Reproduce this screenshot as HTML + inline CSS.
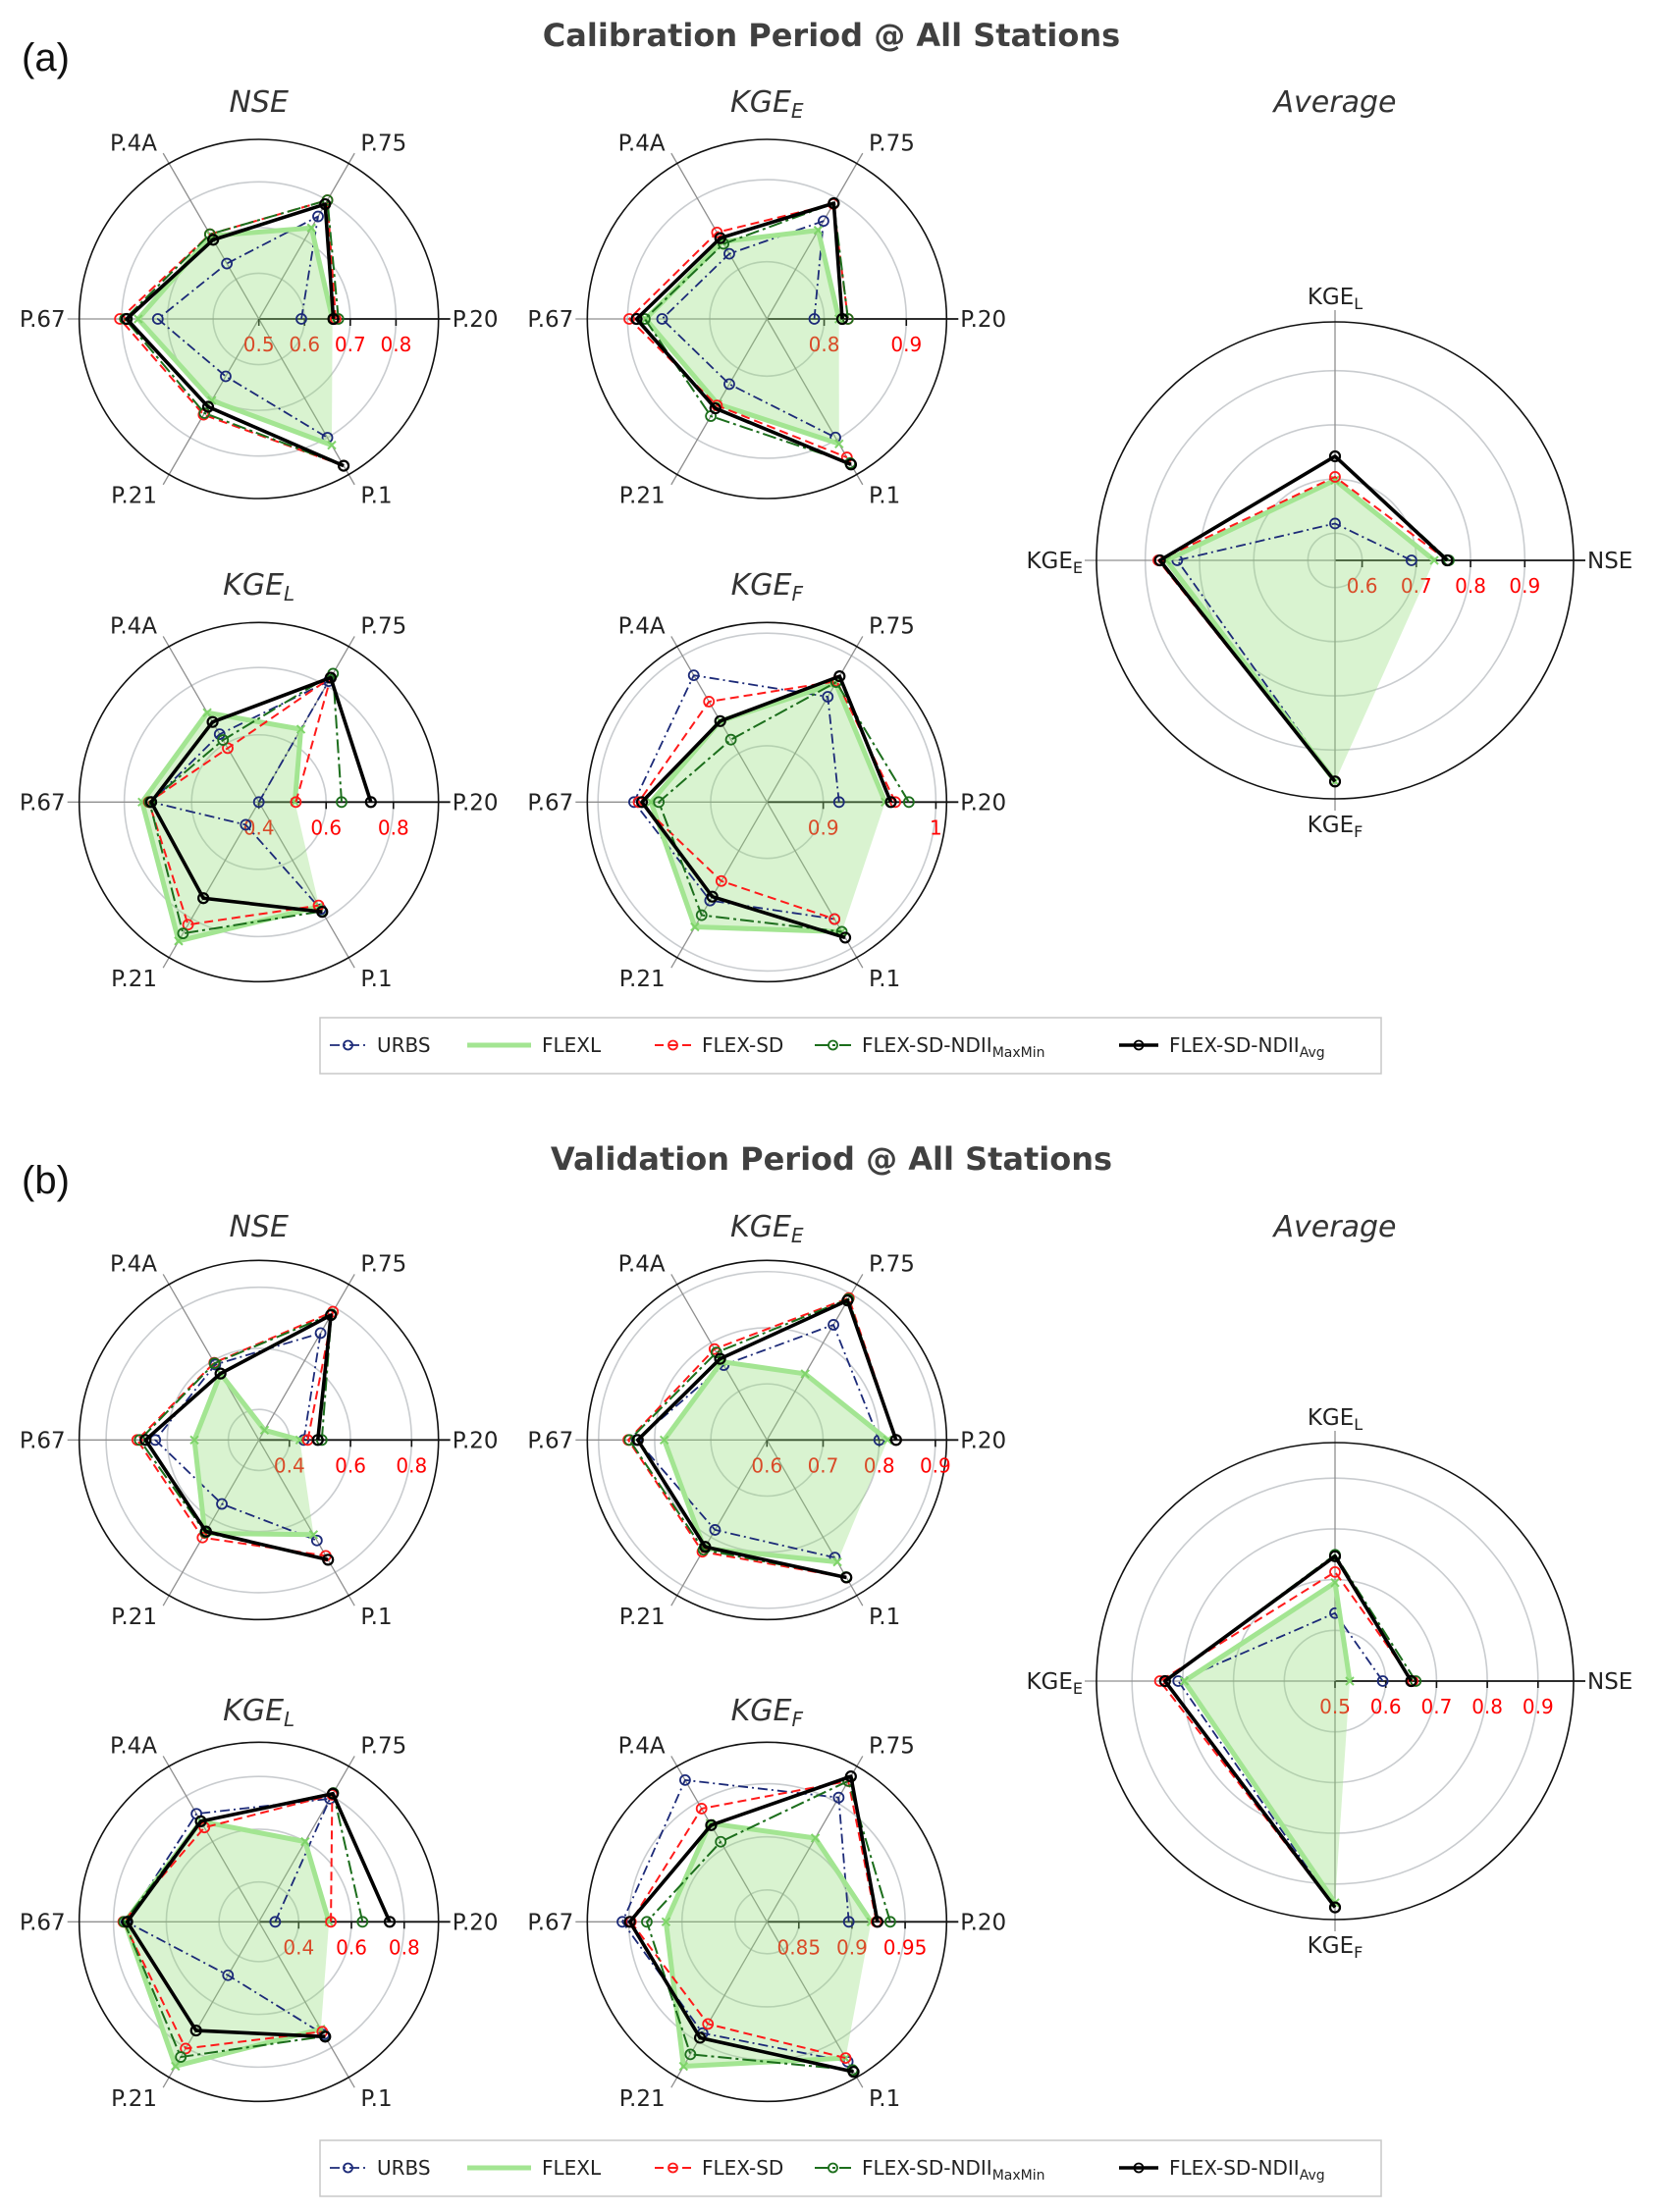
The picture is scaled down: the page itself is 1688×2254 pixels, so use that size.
<!DOCTYPE html>
<html><head><meta charset="utf-8"><title>Radar charts</title>
<style>
html,body{margin:0;padding:0;background:#fff;}
svg{display:block;font-family:"DejaVu Sans","Liberation Sans",sans-serif;}
</style></head>
<body>
<svg id="fig" xmlns="http://www.w3.org/2000/svg" width="1688" height="2254" viewBox="0 0 1688 2254">
  <rect x="0" y="0" width="1688" height="2254" fill="#fff"/>
  <text x="22" y="72" font-size="40" fill="#111" font-family="Liberation Sans, sans-serif">(a)</text>
  <text x="847" y="47" font-size="32" font-weight="bold" fill="#404040" text-anchor="middle">Calibration Period @ All Stations</text>
  <text x="22" y="1216" font-size="40" fill="#111" font-family="Liberation Sans, sans-serif">(b)</text>
  <text x="847" y="1192" font-size="32" font-weight="bold" fill="#404040" text-anchor="middle">Validation Period @ All Stations</text>
  <g id="charts"></g>
  <g id="legends"></g>
</svg>
<script>
// ---------- DATA ----------
const stations = ["P.20","P.75","P.4A","P.67","P.21","P.1"];
const avgAxes = [["NSE",""],["KGE","L"],["KGE","E"],["KGE","F"]];
const seriesNames = ["URBS","FLEXL","FLEX-SD","FLEX-SD-NDII MaxMin","FLEX-SD-NDII Avg"];

// Calibration
const calNseUrbs  = [0.593,0.759,0.640,0.721,0.645,0.800];
const calNseFlexl = [0.661,0.730,0.710,0.764,0.706,0.819];
const calNseSd    = [0.668,0.800,0.714,0.804,0.742,0.871];
const calNseMm    = [0.674,0.800,0.714,0.793,0.738,0.871];
const calNseAvg   = [0.663,0.790,0.700,0.789,0.722,0.871];
const calNseTicks = [0.5,0.6,0.7,0.8];
const calNseTickLabels = ["0.5","0.6","0.7","0.8"];

const calKgeEUrbs  = [0.788,0.868,0.822,0.858,0.822,0.897];
const calKgeEFlexl = [0.818,0.855,0.839,0.878,0.850,0.906];
const calKgeESd    = [0.829,0.892,0.852,0.898,0.852,0.925];
const calKgeEMm    = [0.829,0.893,0.836,0.879,0.867,0.933];
const calKgeEAvg   = [0.822,0.893,0.844,0.889,0.856,0.935];
const calKgeETicks = [0.8,0.9];
const calKgeETickLabels = ["0.8","0.9"];

const calKgeLUrbs  = [0.400,0.815,0.633,0.720,0.478,0.768];
const calKgeLFlexl = [0.507,0.650,0.707,0.747,0.877,0.759];
const calKgeLSd    = [0.510,0.827,0.585,0.727,0.821,0.755];
const calKgeLMm    = [0.646,0.841,0.613,0.725,0.851,0.775];
const calKgeLAvg   = [0.733,0.827,0.675,0.720,0.730,0.777];
const calKgeLTicks = [0.4,0.6,0.8];
const calKgeLTickLabels = ["0.4","0.6","0.8"];

const calKgeFUrbs  = [0.914,0.958,0.980,0.968,0.951,0.970];
const calKgeFFlexl = [0.955,0.972,0.933,0.953,0.978,0.983];
const calKgeFSd    = [0.964,0.974,0.953,0.964,0.931,0.970];
const calKgeFMm    = [0.976,0.973,0.914,0.946,0.966,0.983];
const calKgeFAvg   = [0.960,0.979,0.933,0.961,0.947,0.989];
const calKgeFTicks = [0.9,1.0];
const calKgeFTickLabels = ["0.9","1"];

const calAvgUrbs  = [0.691,0.618,0.841,0.958];
const calAvgFlexl = [0.733,0.698,0.861,0.958];
const calAvgSd    = [0.757,0.704,0.876,0.958];
const calAvgMm    = [0.760,0.742,0.873,0.958];
const calAvgAvg   = [0.757,0.742,0.873,0.958];
const calAvgTicks = [0.6,0.7,0.8,0.9];
const calAvgTickLabels = ["0.6","0.7","0.8","0.9"];

// Validation
const valNseUrbs  = [0.447,0.704,0.585,0.639,0.542,0.680];
const valNseFlexl = [0.434,0.337,0.551,0.511,0.653,0.658];
const valNseSd    = [0.460,0.785,0.592,0.698,0.669,0.738];
const valNseMm    = [0.506,0.775,0.590,0.690,0.650,0.753];
const valNseAvg   = [0.493,0.772,0.551,0.671,0.646,0.753];
const valNseTicks = [0.4,0.6,0.8];
const valNseTickLabels = ["0.4","0.6","0.8"];

const valKgeEUrbs  = [0.800,0.837,0.754,0.832,0.785,0.842];
const valKgeEFlexl = [0.815,0.736,0.761,0.783,0.823,0.851];
const valKgeESd    = [0.830,0.892,0.787,0.847,0.830,0.883];
const valKgeEMm    = [0.830,0.890,0.780,0.845,0.826,0.882];
const valKgeEAvg   = [0.830,0.887,0.767,0.830,0.820,0.883];
const valKgeETicks = [0.6,0.7,0.8,0.9];
const valKgeETickLabels = ["0.6","0.7","0.8","0.9"];

const valKgeLUrbs  = [0.311,0.788,0.722,0.751,0.483,0.743];
const valKgeLFlexl = [0.515,0.600,0.689,0.757,0.881,0.719];
const valKgeLSd    = [0.522,0.805,0.662,0.763,0.804,0.730];
const valKgeLMm    = [0.642,0.813,0.689,0.760,0.841,0.750];
const valKgeLAvg   = [0.745,0.810,0.689,0.748,0.725,0.752];
const valKgeLTicks = [0.4,0.6,0.8];
const valKgeLTickLabels = ["0.4","0.6","0.8"];

const valKgeFUrbs  = [0.897,0.955,0.974,0.956,0.941,0.972];
const valKgeFFlexl = [0.918,0.911,0.927,0.915,0.977,0.968];
const valKgeFSd    = [0.923,0.973,0.943,0.948,0.931,0.968];
const valKgeFMm    = [0.936,0.973,0.907,0.933,0.964,0.981];
const valKgeFAvg   = [0.924,0.978,0.925,0.949,0.946,0.983];
const valKgeFTicks = [0.85,0.9,0.95];
const valKgeFTickLabels = ["0.85","0.9","0.95"];

const valAvgUrbs  = [0.594,0.634,0.809,0.946];
const valAvgFlexl = [0.529,0.694,0.797,0.937];
const valAvgSd    = [0.653,0.715,0.845,0.946];
const valAvgMm    = [0.659,0.749,0.835,0.946];
const valAvgAvg   = [0.650,0.746,0.835,0.946];
const valAvgTicks = [0.5,0.6,0.7,0.8,0.9];
const valAvgTickLabels = ["0.5","0.6","0.7","0.8","0.9"];

// ---------- RENDER ----------
const NS = "http://www.w3.org/2000/svg";
const chartsG = document.getElementById("charts");
const legendsG = document.getElementById("legends");
function mk(tag, attrs, parent){
  const e = document.createElementNS(NS, tag);
  for (const k in attrs) e.setAttribute(k, attrs[k]);
  if (parent) parent.appendChild(e);
  return e;
}
const styles = [
  {stroke:"#1c2a78", w:1.8, dash:"10,4,2,4", marker:"circle"},
  {stroke:"#a3e592", w:5, dash:"", marker:"x"},
  {stroke:"#ff1a1a", w:2, dash:"9,5", marker:"circle"},
  {stroke:"#1c6e1c", w:2, dash:"14,4,3,4", marker:"circle"},
  {stroke:"#000000", w:3.6, dash:"", marker:"circle"}
];
const seriesKeys = ["urbs","flexl","flex-sd","ndii-maxmin","ndii-avg"];

function radar(cfg){
  const g = mk("g", {}, chartsG);
  
  
  const n = cfg.axes.length;
  const rScale = v => Math.max(0, (v - cfg.rmin) / (cfg.rmax - cfg.rmin) * cfg.R);
  const ang = i => i * 2 * Math.PI / n;
  const pt = (i, v) => { const r = rScale(v), a = ang(i); return [cfg.cx + r*Math.cos(a), cfg.cy - r*Math.sin(a)]; };

  const t = mk("text", {x:cfg.cx, y:cfg.titleY, "font-size":30, "font-style":"italic", fill:"#333", "text-anchor":"middle"}, g);
  
  
  t.appendChild(document.createTextNode(cfg.title[0]));
  if (cfg.title[1]) { const s = mk("tspan", {"font-size":20, dy:6}, t); s.textContent = cfg.title[1]; }

  cfg.ticks.forEach(tv => {
    const rr = rScale(tv);
    if (rr > 1) {
      const c = mk("circle", {cx:cfg.cx, cy:cfg.cy, r:rr, fill:"none", stroke:"#c9cccf", "stroke-width":1.6}, g);
      
      
    }
  });
  for (let i = 0; i < n; i++) {
    const a = ang(i), L = cfg.R + 12;
    const ln = mk("line", {x1:cfg.cx, y1:cfg.cy, x2:cfg.cx + L*Math.cos(a), y2:cfg.cy - L*Math.sin(a), stroke: i===0 ? "#111" : "#8f8f8f", "stroke-width": i===0 ? 1.8 : 1.3}, g);
    
    
  }
  const oc = mk("circle", {cx:cfg.cx, cy:cfg.cy, r:cfg.R, fill:"none", stroke:"#111", "stroke-width":1.6}, g);
  
  
  cfg.ticks.forEach((tv, k) => {
    const x = cfg.cx + rScale(tv);
    const tm = mk("line", {x1:x, y1:cfg.cy, x2:x, y2:cfg.cy+7, stroke:"#111", "stroke-width":1.6}, g);
    
    
    const tl = mk("text", {x:x, y:cfg.cy+33, "font-size":20, fill:"#ff0000", "text-anchor":"middle"}, g);
    
    
    tl.textContent = cfg.tickLabels[k];
  });
  for (let i = 0; i < n; i++) {
    const a = ang(i), c = Math.cos(a), s = Math.sin(a);
    const d = cfg.R + 14 + 12*Math.abs(s);
    const x = cfg.cx + d*c, y = cfg.cy - d*s + 8;
    const anchor = c > 0.1 ? "start" : (c < -0.1 ? "end" : "middle");
    const lab = cfg.axes[i];
    const tx = mk("text", {x:x, y:y, "font-size":23, fill:"#222", "text-anchor":anchor}, g);
    
    
    if (Array.isArray(lab)) {
      tx.appendChild(document.createTextNode(lab[0]));
      if (lab[1]) { const sp = mk("tspan", {"font-size":16, dy:5}, tx); sp.textContent = lab[1]; }
    } else tx.textContent = lab;
  }
  const fp = cfg.series[1].map((v,i) => pt(i,v).join(",")).join(" ");
  const fill = mk("polygon", {points:fp, fill:"#8fdc74", "fill-opacity":0.34, stroke:"none"}, g);
  
  
  cfg.series.forEach((vals, si) => {
    const st = styles[si];
    const pts = vals.map((v,i) => pt(i,v));
    const pl = mk("polyline", {points: pts.map(p=>p.join(",")).join(" "), fill:"none", stroke:st.stroke, "stroke-width":st.w, "stroke-linejoin":"round"}, g);
    if (st.dash) pl.setAttribute("stroke-dasharray", st.dash);
    
    
    pts.forEach(p => {
      if (st.marker === "circle") {
        const m = mk("circle", {cx:p[0], cy:p[1], r:5, fill:"none", stroke:st.stroke, "stroke-width": si===4 ? 2.2 : 1.8}, g);
        
        
      } else {
        const m = mk("path", {d:`M${p[0]-4},${p[1]-4}L${p[0]+4},${p[1]+4}M${p[0]-4},${p[1]+4}L${p[0]+4},${p[1]-4}`, stroke:"#7fd46a", "stroke-width":2}, g);
        
        
      }
    });
  });
}

function legend(y, name){
  const g = mk("g", {}, legendsG);
  
  
  const box = mk("rect", {x:326, y:y-28, width:1081, height:57, fill:"#fff", stroke:"#c8c8c8", "stroke-width":1.5}, g);
  
  
  const lx = [336, 476, 667, 830, 1140];
  const lw = [37, 65, 37, 37, 40];
  const texts = [["URBS",""],["FLEXL",""],["FLEX-SD",""],["FLEX-SD-NDII","MaxMin"],["FLEX-SD-NDII","Avg"]];
  for (let i = 0; i < 5; i++) {
    const st = styles[i];
    const e = mk("g", {}, g);
    
    
    const ln = mk("line", {x1:lx[i], y1:y, x2:lx[i]+lw[i], y2:y, stroke:st.stroke, "stroke-width":st.w}, e);
    if (st.dash) ln.setAttribute("stroke-dasharray", st.dash);
    if (st.marker === "circle") mk("circle", {cx:lx[i]+lw[i]/2, cy:y, r:4.5, fill:"none", stroke:st.stroke, "stroke-width":1.8}, e);
    const tx = mk("text", {x:lx[i]+lw[i]+11, y:y+7, "font-size":20, fill:"#222"}, e);
    tx.appendChild(document.createTextNode(texts[i][0]));
    if (texts[i][1]) { const sp = mk("tspan", {"font-size":14, dy:5}, tx); sp.textContent = texts[i][1]; }
  }
}

const R = 183, RA = 243;
radar({name:"cal-nse-radar", cx:263.7, cy:325, R:R, rmin:0.5, rmax:0.893, ticks:calNseTicks, tickLabels:calNseTickLabels, axes:stations, title:["NSE",""], titleY:114,
  series:[calNseUrbs,calNseFlexl,calNseSd,calNseMm,calNseAvg]});
radar({name:"cal-kgee-radar", cx:781.3, cy:325, R:R, rmin:0.7304, rmax:0.949, ticks:calKgeETicks, tickLabels:calKgeETickLabels, axes:stations, title:["KGE","E"], titleY:114,
  series:[calKgeEUrbs,calKgeEFlexl,calKgeESd,calKgeEMm,calKgeEAvg]});
radar({name:"cal-kgel-radar", cx:263.7, cy:817.3, R:R, rmin:0.4, rmax:0.934, ticks:calKgeLTicks, tickLabels:calKgeLTickLabels, axes:stations, title:["KGE","L"], titleY:606,
  series:[calKgeLUrbs,calKgeLFlexl,calKgeLSd,calKgeLMm,calKgeLAvg]});
radar({name:"cal-kgef-radar", cx:781.3, cy:817.3, R:R, rmin:0.85, rmax:1.0095, ticks:calKgeFTicks, tickLabels:calKgeFTickLabels, axes:stations, title:["KGE","F"], titleY:606,
  series:[calKgeFUrbs,calKgeFFlexl,calKgeFSd,calKgeFMm,calKgeFAvg]});
radar({name:"cal-average-radar", cx:1360, cy:571, R:RA, rmin:0.55, rmax:0.99, ticks:calAvgTicks, tickLabels:calAvgTickLabels, axes:avgAxes, title:["Average",""], titleY:114,
  series:[calAvgUrbs,calAvgFlexl,calAvgSd,calAvgMm,calAvgAvg]});

radar({name:"val-nse-radar", cx:263.7, cy:1467.3, R:R, rmin:0.30, rmax:0.888, ticks:valNseTicks, tickLabels:valNseTickLabels, axes:stations, title:["NSE",""], titleY:1260,
  series:[valNseUrbs,valNseFlexl,valNseSd,valNseMm,valNseAvg]});
radar({name:"val-kgee-radar", cx:781.3, cy:1467.3, R:R, rmin:0.6, rmax:0.92, ticks:valKgeETicks, tickLabels:valKgeETickLabels, axes:stations, title:["KGE","E"], titleY:1260,
  series:[valKgeEUrbs,valKgeEFlexl,valKgeESd,valKgeEMm,valKgeEAvg]});
radar({name:"val-kgel-radar", cx:263.7, cy:1958.3, R:R, rmin:0.249, rmax:0.93, ticks:valKgeLTicks, tickLabels:valKgeLTickLabels, axes:stations, title:["KGE","L"], titleY:1753,
  series:[valKgeLUrbs,valKgeLFlexl,valKgeLSd,valKgeLMm,valKgeLAvg]});
radar({name:"val-kgef-radar", cx:781.3, cy:1958.3, R:R, rmin:0.82, rmax:0.989, ticks:valKgeFTicks, tickLabels:valKgeFTickLabels, axes:stations, title:["KGE","F"], titleY:1753,
  series:[valKgeFUrbs,valKgeFFlexl,valKgeFSd,valKgeFMm,valKgeFAvg]});
radar({name:"val-average-radar", cx:1360, cy:1713, R:RA, rmin:0.5, rmax:0.97, ticks:valAvgTicks, tickLabels:valAvgTickLabels, axes:avgAxes, title:["Average",""], titleY:1260,
  series:[valAvgUrbs,valAvgFlexl,valAvgSd,valAvgMm,valAvgAvg]});

legend(1065, "calibration-legend");
legend(2209, "validation-legend");
</script>
</body></html>
